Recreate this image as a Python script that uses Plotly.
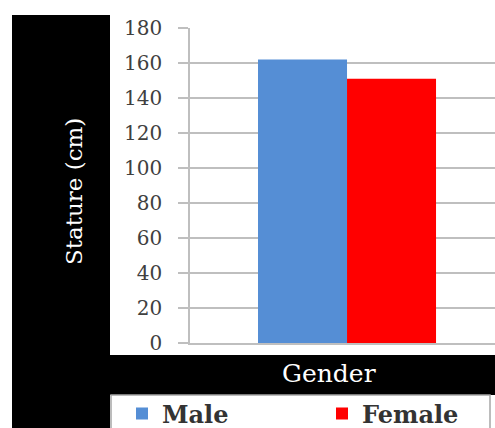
import plotly.graph_objects as go

categories = ["Gender"]
series_names = ["Male", "Female"]
male_values = [162]
female_values = [151]
y_ticks = [0, 20, 40, 60, 80, 100, 120, 140, 160, 180]

W, H = 495, 428
def px(x):
    return x / W
def py(y):
    return 1 - y / H

fig = go.Figure()
fig.add_trace(go.Bar(name=series_names[0], x=categories, y=male_values,
                     marker=dict(color="#558ED5", line=dict(width=0)),
                     legend="legend"))
fig.add_trace(go.Bar(name=series_names[1], x=categories, y=female_values,
                     marker=dict(color="#FF0000", line=dict(width=0)),
                     legend="legend2"))

grid = "#BFBFBF"
legend_font = dict(family="DejaVu Serif", size=24, color="#333333", weight="bold")
fig.update_layout(
    width=W, height=H,
    margin=dict(l=0, r=0, t=0, b=0, autoexpand=False),
    paper_bgcolor="white", plot_bgcolor="white",
    barmode="group", bargap=0.2, bargroupgap=0,
    font=dict(family="DejaVu Serif"),
    xaxis=dict(domain=[px(190), 1], range=[-0.7056, 0.665],
               showticklabels=False, showgrid=False, zeroline=False,
               showline=True, linecolor=grid, linewidth=1.5, ticks=""),
    yaxis=dict(domain=[py(343), py(28)], range=[0, 180],
               tickvals=y_ticks, ticktext=[str(v) for v in y_ticks],
               showgrid=True, gridcolor=grid, gridwidth=1.5, zeroline=False,
               showline=True, linecolor=grid, linewidth=1.5,
               ticks="outside", ticklen=10, tickcolor=grid, tickwidth=1.5,
               ticklabelstandoff=12,
               tickfont=dict(family="DejaVu Serif", size=20, color="#404040")),
    legend=dict(orientation="h", x=px(122), xanchor="left",
                y=py(414), yanchor="middle",
                bgcolor="rgba(0,0,0,0)", borderwidth=0, font=legend_font),
    legend2=dict(orientation="h", x=px(322), xanchor="left",
                 y=py(414), yanchor="middle",
                 bgcolor="rgba(0,0,0,0)", borderwidth=0, font=legend_font),
    shapes=[
        dict(type="rect", xref="paper", yref="paper", x0=px(12), x1=px(110),
             y0=py(15), y1=py(440), fillcolor="black", line=dict(width=0),
             layer="below"),
        dict(type="rect", xref="paper", yref="paper", x0=px(110), x1=px(500),
             y0=py(355), y1=py(395), fillcolor="black", line=dict(width=0),
             layer="below"),
        dict(type="rect", xref="paper", yref="paper", x0=px(111), x1=px(490),
             y0=py(395), y1=py(440), fillcolor="white",
             line=dict(color="#A6A6A6", width=1.5), layer="below"),
    ],
    annotations=[
        dict(text="Stature (cm)", xref="paper", yref="paper", x=px(74),
             y=py(192), xanchor="center", yanchor="middle", textangle=-90,
             showarrow=False,
             font=dict(family="DejaVu Serif", size=23, color="white")),
        dict(text="Gender", xref="paper", yref="paper", x=px(329),
             y=py(373), xanchor="center", yanchor="middle", showarrow=False,
             font=dict(family="DejaVu Serif", size=25, color="white")),
    ],
    showlegend=True,
)

fig.write_html("out.html")
